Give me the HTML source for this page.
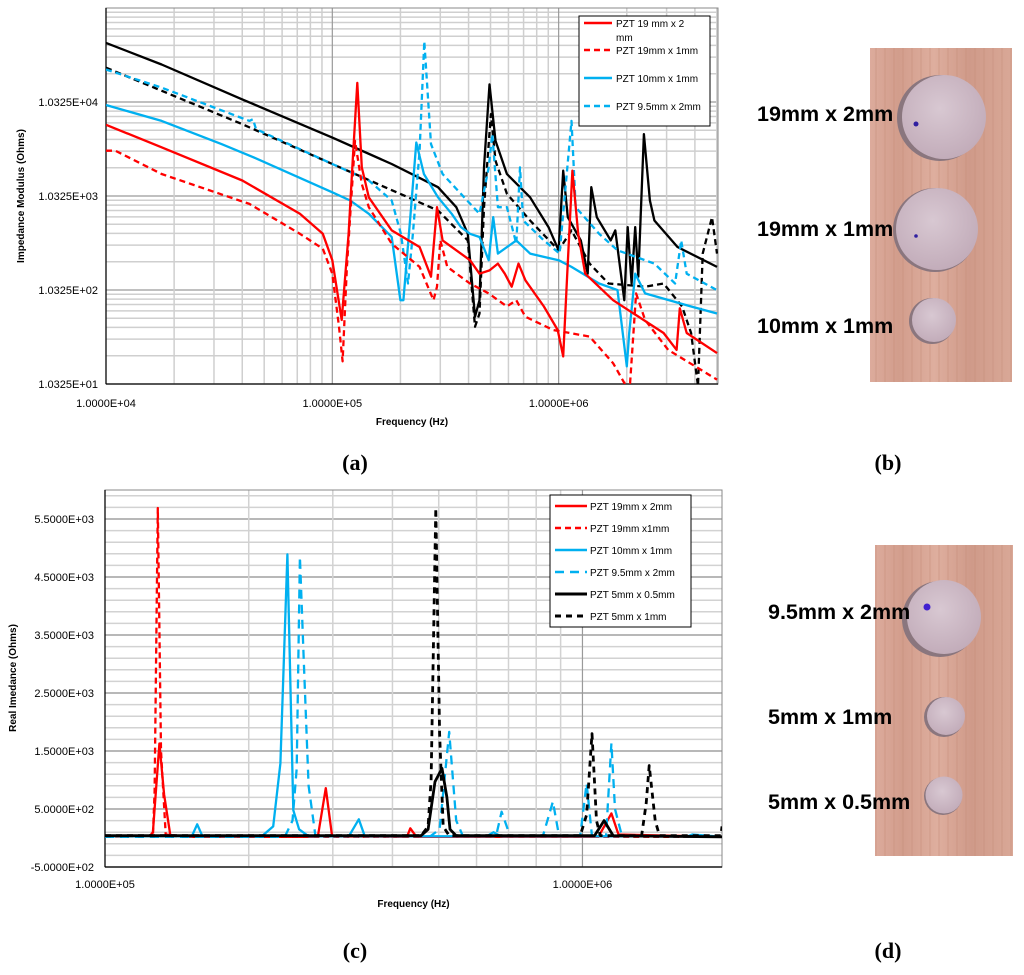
<!DOCTYPE html>
<html><head><meta charset="utf-8">
<style>
html,body{margin:0;padding:0;background:#fff;}
svg{display:block;font-family:"Liberation Sans",sans-serif;}
.tick{font-size:11px;fill:#000;}
.ttl{font-size:10px;font-weight:bold;fill:#000;}
.leg{font-size:10px;fill:#000;}
.cap{font-family:"Liberation Serif",serif;font-size:22px;font-weight:bold;}
.plab{font-size:21.5px;font-weight:bold;fill:#000;}
</style></head>
<body>
<svg id="fig" width="1024" height="975" viewBox="0 0 1024 975">
  <g id="chartA"></g>
  <g id="chartC"></g>

  <g>
    <rect x="579" y="16" width="131" height="110" fill="#fff" stroke="#000" stroke-width="1"/>
    <g><line x1="584" y1="23" x2="612" y2="23" stroke="#f00" stroke-width="2.5"/><text class="leg" x="616" y="27">PZT 19 mm x 2</text><text class="leg" x="616" y="41">mm</text></g>
    <g><line x1="584" y1="50" x2="612" y2="50" stroke="#f00" stroke-width="2.5" stroke-dasharray="6,4"/><text class="leg" x="616" y="54">PZT 19mm x 1mm</text></g>
    <g><line x1="584" y1="78" x2="612" y2="78" stroke="#00b0f0" stroke-width="2.5"/><text class="leg" x="616" y="82">PZT 10mm x 1mm</text></g>
    <g><line x1="584" y1="106" x2="612" y2="106" stroke="#00b0f0" stroke-width="2.5" stroke-dasharray="6,4"/><text class="leg" x="616" y="110">PZT 9.5mm x 2mm</text></g>
  </g>

  <g>
    <rect x="550" y="495" width="141" height="132" fill="#fff" stroke="#000" stroke-width="1"/>
    <g><line x1="555" y1="506" x2="587" y2="506" stroke="#f00" stroke-width="2.5"/><text class="leg" x="590" y="510">PZT 19mm x 2mm</text></g>
    <g><line x1="555" y1="528" x2="587" y2="528" stroke="#f00" stroke-width="2.5" stroke-dasharray="6,4"/><text class="leg" x="590" y="532">PZT 19mm x1mm</text></g>
    <g><line x1="555" y1="550" x2="587" y2="550" stroke="#00b0f0" stroke-width="2.5"/><text class="leg" x="590" y="554">PZT 10mm x 1mm</text></g>
    <g><line x1="555" y1="572" x2="587" y2="572" stroke="#00b0f0" stroke-width="2.5" stroke-dasharray="9,6"/><text class="leg" x="590" y="576">PZT 9.5mm x 2mm</text></g>
    <g><line x1="555" y1="594" x2="587" y2="594" stroke="#000" stroke-width="3"/><text class="leg" x="590" y="598">PZT 5mm x 0.5mm</text></g>
    <g><line x1="555" y1="616" x2="587" y2="616" stroke="#000" stroke-width="3" stroke-dasharray="6,5"/><text class="leg" x="590" y="620">PZT 5mm x 1mm</text></g>
  </g>

  <text class="cap" x="355" y="470" text-anchor="middle">(a)</text>
  <text class="cap" x="888" y="470" text-anchor="middle">(b)</text>
  <text class="cap" x="355" y="958" text-anchor="middle">(c)</text>
  <text class="cap" x="888" y="958" text-anchor="middle">(d)</text>

  <defs>
    <linearGradient id="wood" x1="0" y1="0" x2="1" y2="0">
      <stop offset="0" stop-color="#dcab9c"/><stop offset="0.2" stop-color="#d29d8c"/>
      <stop offset="0.45" stop-color="#deae9e"/><stop offset="0.7" stop-color="#cf9a89"/>
      <stop offset="1" stop-color="#d9a897"/>
    </linearGradient>
    <pattern id="grain" width="9" height="40" patternUnits="userSpaceOnUse">
      <rect width="9" height="40" fill="none"/>
      <rect x="2" y="0" width="2" height="40" fill="#c48a78" opacity="0.25"/>
    </pattern>
    <radialGradient id="disc" cx="0.45" cy="0.4" r="0.7">
      <stop offset="0" stop-color="#d8c8d2"/><stop offset="1" stop-color="#bfa8b6"/>
    </radialGradient>
  </defs>

  <g>
    <rect x="870" y="48" width="142" height="334" fill="url(#wood)"/>
    <rect x="870" y="48" width="142" height="334" fill="url(#grain)"/>
    <g><circle cx="940" cy="118" r="43" fill="#8a767e"/><circle cx="944" cy="117" r="42" fill="url(#disc)"/><circle cx="916" cy="124" r="2.5" fill="#3020a0"/></g>
    <g><circle cx="935" cy="230" r="42" fill="#8a767e"/><circle cx="937" cy="229" r="41" fill="url(#disc)"/><circle cx="916" cy="236" r="1.8" fill="#3020a0"/></g>
    <g><circle cx="932" cy="321" r="23" fill="#8a767e"/><circle cx="934" cy="320" r="22" fill="url(#disc)"/></g>
    <text class="plab" x="757" y="121">19mm x 2mm</text>
    <text class="plab" x="757" y="236">19mm x 1mm</text>
    <text class="plab" x="757" y="333">10mm x 1mm</text>
  </g>

  <g>
    <rect x="875" y="545" width="138" height="311" fill="url(#wood)"/>
    <rect x="875" y="545" width="138" height="311" fill="url(#grain)"/>
    <g><circle cx="940" cy="619" r="38" fill="#8a767e"/><circle cx="944" cy="617" r="37" fill="url(#disc)"/><circle cx="927" cy="607" r="3.5" fill="#4020d0"/></g>
    <g><circle cx="944" cy="717" r="20" fill="#8a767e"/><circle cx="946" cy="716" r="19" fill="url(#disc)"/></g>
    <g><circle cx="943" cy="796" r="19" fill="#8a767e"/><circle cx="944" cy="795" r="18.5" fill="url(#disc)"/></g>
    <text class="plab" x="768" y="619">9.5mm x 2mm</text>
    <text class="plab" x="768" y="724">5mm x 1mm</text>
    <text class="plab" x="768" y="809">5mm x 0.5mm</text>
  </g>
</svg>
<script>
// ===== Chart (a) data: frequency (Hz) and impedance modulus (Ohms) =====
const aYTicks = ["1.0325E+01","1.0325E+02","1.0325E+03","1.0325E+04"];
const aXTicks = ["1.0000E+04","1.0000E+05","1.0000E+06"];
const aRed19x2F = [1e4,17.6e3,40e3,71.9e3,90.8e3,100e3,110e3,118e3,123e3,129e3,135e3,145e3,183e3,243e3,273e3,290e3,307e3,406e3,447e3,495e3,539e3,578e3,620e3,665e3,713e3,861e3,991e3,1.048e6,1.09e6,1.15e6,1.22e6,1.31e6,1.74e6,2.91e6,3.32e6,3.43e6,3.68e6,5.01e6];
const aRed19x2Z = [5900,3400,1510,668,409,214,49.5,409,2450,16500,2080,1000,445,296,143,784,348,214,154,167,197,154,112,197,131,69,38.8,20.3,143,1920,409,154,80.5,36,23.8,65.9,36,22];
const aRed19x1F = [1e4,11e3,17.6e3,43e3,71.9e3,90.8e3,100e3,107e3,111e3,116e3,126e3,135e3,145e3,183e3,243e3,280e3,290e3,300e3,322e3,406e3,491e3,591e3,650e3,713e3,946e3,1.37e6,1.74e6,1.95e6,2.07e6,2.2e6,2.41e6,3.05e6,5.01e6];
const aRed19x1Z = [3130,3130,1770,851,409,284,154,42,18,182,3990,1390,784,321,182,80.5,112,348,182,121,95,69,80.5,53.7,38.8,33,17.2,10.6,10.6,95,49.5,23.8,11.5];
const aBlue10x1F = [1e4,17.6e3,32.4e3,45e3,100e3,120e3,145e3,183e3,200e3,206e3,221e3,235e3,254e3,293e3,337e3,370e3,406e3,447e3,491e3,514e3,539e3,650e3,748e3,861e3,1e6,1.14e6,1.51e6,1.82e6,2.0e6,2.05e6,2.18e6,2.41e6,3.85e6,5.01e6];
const aBlue10x1Z = [9600,6500,3680,2660,1130,925,668,378,80.5,80.5,615,3830,1770,1000,668,482,409,378,214,615,252,348,252,232,214,182,121,103,15.9,36,154,95,69,58];
const aBlue95x2F = [1e4,17.6e3,43e3,44.6e3,46e3,100e3,145e3,183e3,201e3,216e3,227e3,243e3,255e3,273e3,307e3,370e3,447e3,491e3,509e3,539e3,591e3,650e3,675e3,697e3,861e3,1.01e6,1.14e6,1.19e6,1.51e6,1.82e6,2.65e6,3.27e6,3.48e6,3.68e6,5.01e6];
const aBlue95x2Z = [22900,14700,6500,6770,5310,2260,1510,925,409,121,409,3130,45700,3680,1770,1090,668,2080,4700,784,784,321,2080,567,348,252,6500,784,409,273,197,121,348,154,103];
const aBlack05F = [1e4,17.6e3,40e3,100e3,183e3,293e3,353e3,397e3,427e3,447e3,468e3,495e3,526e3,591e3,748e3,902e3,1e6,1.048e6,1.098e6,1.253e6,1.344e6,1.394e6,1.475e6,1.698e6,1.78e6,1.95e6,2.02e6,2.1e6,2.18e6,2.25e6,2.38e6,2.53e6,2.65e6,3.35e6,5.01e6];
const aBlack05Z = [43900,25900,11000,4320,2260,1280,784,409,53.7,80.5,2080,15900,3990,1770,1000,482,273,1920,615,348,154,1280,615,348,445,80.5,482,121,482,143,4700,925,567,296,182];
const aBlack1F = [1e4,40e3,100e3,293e3,397e3,427e3,447e3,468e3,502e3,526e3,591e3,748e3,1e6,1.14e6,1.37e6,1.66e6,2.41e6,2.91e6,3.51e6,3.85e6,4.13e6,4.33e6,4.76e6,5.01e6];
const aBlack1Z = [23900,6000,2260,724,348,42,58,784,7660,2450,1090,567,273,445,197,121,112,121,69,36,9.8,252,615,252];

// ===== Chart (c) data: frequency (Hz) and real impedance (Ohms) =====
const cYTicks = [-500,500,1500,2500,3500,4500,5500];
const cYTickLabels = ["-5.0000E+02","5.0000E+02","1.5000E+03","2.5000E+03","3.5000E+03","4.5000E+03","5.5000E+03"];
const cXTicks = ["1.0000E+05","1.0000E+06"];
const cRed19x2F = [1e5,124e3,126e3,130e3,133e3,137e3,149e3,279e3,290e3,299e3,429e3,436e3,449e3,1.08e6,1.15e6,1.19e6,1.96e6];
const cRed19x2R = [30,30,100,1630,750,50,20,20,860,30,20,167,20,20,425,60,20];
const cRed19x1F = [1e5,126e3,127e3,129e3,131e3,134e3,149e3,1.96e6];
const cRed19x1R = [20,40,800,5690,1500,60,20,20];
const cBlue10x1F = [1e5,149e3,152e3,156e3,160e3,213e3,225e3,233e3,241e3,248e3,255e3,267e3,324e3,340e3,350e3,630e3,651e3,674e3,1.66e6,1.70e6,1.96e6];
const cBlue10x1R = [30,30,30,236,30,30,200,1290,4890,480,150,30,30,322,30,30,100,30,30,60,20];
const cBlue95x2F = [1e5,238e3,247e3,252e3,256e3,261e3,267e3,276e3,480e3,502e3,526e3,544e3,562e3,659e3,677e3,705e3,826e3,867e3,893e3,989e3,1.02e6,1.047e6,1.12e6,1.15e6,1.17e6,1.21e6,1.96e6];
const cBlue95x2R = [20,20,300,1200,4850,3000,900,30,30,150,1830,300,30,30,454,40,30,627,40,40,943,30,30,1632,500,30,20];
const cBlack05F = [1e5,459e3,475e3,491e3,508e3,520e3,528e3,544e3,1.06e6,1.11e6,1.16e6,1.96e6];
const cBlack05R = [40,40,150,970,1200,700,150,40,40,300,40,20];
const cBlack1F = [1e5,459e3,475e3,482e3,493e3,502e3,511e3,526e3,989e3,1.02e6,1.047e6,1.07e6,1.09e6,1.33e6,1.36e6,1.38e6,1.42e6,1.45e6,1.95e6,1.96e6];
const cBlack1R = [40,40,200,1000,5690,1800,200,40,40,400,1800,300,40,40,600,1250,300,40,40,200];

const NS = "http://www.w3.org/2000/svg";
function mk(parent, tag, attrs){ const e=document.createElementNS(NS,tag); for(const k in attrs) e.setAttribute(k,attrs[k]); parent.appendChild(e); return e; }

(function(){
  const g = document.getElementById('chartA');
  const L=106,R=718,T=8,B=384;
  const xMin=Math.log10(1e4), xMax=Math.log10(5.06e6), yMin=Math.log10(10.325), yMax=Math.log10(103250);
  const X=f=>L+(Math.log10(f)-xMin)/(xMax-xMin)*(R-L);
  const Y=z=>B-(Math.log10(z)-yMin)/(yMax-yMin)*(B-T);
  const clip = mk(g,'clipPath',{id:'clipA'}); mk(clip,'rect',{x:L,y:T,width:R-L,height:B-T});
  for(let d=1;d<=4;d++){ for(let m=1;m<=9;m++){ const z=10.325*Math.pow(10,d-1)*m; if(z>103250) break; const y=Y(z);
    const ln=mk(g,'line',{x1:L,x2:R,y1:y,y2:y,stroke:m===1?'#9a9a9a':'#cfcfcf','stroke-width':m===1?1.2:1.5});
      } }
  for(let d=4;d<=6;d++){ for(let m=1;m<=9;m++){ const f=m*Math.pow(10,d); if(f>5.06e6) break; const x=X(f);
    const ln=mk(g,'line',{x1:x,x2:x,y1:T,y2:B,stroke:m===1?'#9a9a9a':'#cfcfcf','stroke-width':m===1?1.2:1.5});
      } }
  mk(g,'rect',{x:L,y:T,width:R-L,height:B-T,fill:'none',stroke:'#888','stroke-width':1});
  mk(g,'line',{x1:L,x2:L,y1:T,y2:B,stroke:'#000','stroke-width':1.2});
  mk(g,'line',{x1:L,x2:R,y1:B,y2:B,stroke:'#000','stroke-width':1.2});
  aYTicks.forEach((t,i)=>{ const y=Y(10.325*Math.pow(10,i));
    const tx=mk(g,'text',{x:L-8,y:y+4,'text-anchor':'end',class:'tick'}); tx.textContent=t;
      });
  aXTicks.forEach((t,i)=>{ const x=X(Math.pow(10,4+i));
    const tx=mk(g,'text',{x:x,y:407,'text-anchor':'middle',class:'tick'}); tx.textContent=t;
      });
  const xt=mk(g,'text',{x:(L+R)/2,y:425,'text-anchor':'middle',class:'ttl'}); xt.textContent='Frequency (Hz)';
   
  const yt=mk(g,'text',{x:0,y:0,'text-anchor':'middle',class:'ttl',transform:'translate(24,196) rotate(-90)'}); yt.textContent='Impedance Modulus (Ohms)';
   
  const series=[
    [aBlack05F,aBlack05Z,'#000',null,'series-black-solid'],
    [aBlack1F,aBlack1Z,'#000','6,4','series-black-dashed'],
    [aBlue95x2F,aBlue95x2Z,'#00b0f0','6,4','series-pzt-9.5x2'],
    [aBlue10x1F,aBlue10x1Z,'#00b0f0',null,'series-pzt-10x1'],
    [aRed19x1F,aRed19x1Z,'#f00','6,4','series-pzt-19x1'],
    [aRed19x2F,aRed19x2Z,'#f00',null,'series-pzt-19x2']];
  series.forEach(s=>{ const d=s[0].map((f,i)=>(i?'L':'M')+X(f).toFixed(1)+','+Y(s[1][i]).toFixed(1)).join('');
    const p=mk(g,'path',{d:d,fill:'none',stroke:s[2],'stroke-width':2.3,'stroke-linejoin':'round','clip-path':'url(#clipA)'});
    if(s[3]) p.setAttribute('stroke-dasharray',s[3]);
      });
})();

(function(){
  const g = document.getElementById('chartC');
  const L=105,R=722,T=490,B=867;
  const xMin=5, xMax=Math.log10(1.96e6), yMin=-500, yMax=6000;
  const X=f=>L+(Math.log10(f)-xMin)/(xMax-xMin)*(R-L);
  const Y=v=>B-(v-yMin)/(yMax-yMin)*(B-T);
  const clip = mk(g,'clipPath',{id:'clipC'}); mk(clip,'rect',{x:L,y:T,width:R-L,height:B-T});
  for(let v=-500; v<=6000; v+=200){ const y=Y(v);
    const ln=mk(g,'line',{x1:L,x2:R,y1:y,y2:y,stroke:'#d2d2d2','stroke-width':1.5});
      }
  for(let v=-500; v<=6000; v+=1000){ const y=Y(v);
    const ln=mk(g,'line',{x1:L,x2:R,y1:y,y2:y,stroke:'#9a9a9a','stroke-width':1.2});
      }
  for(let d=5;d<=6;d++){ for(let m=1;m<=9;m++){ const f=m*Math.pow(10,d); if(f>1.96e6) break; const x=X(f);
    const ln=mk(g,'line',{x1:x,x2:x,y1:T,y2:B,stroke:m===1?'#9a9a9a':'#d2d2d2','stroke-width':m===1?1.2:1.5});
      } }
  mk(g,'rect',{x:L,y:T,width:R-L,height:B-T,fill:'none',stroke:'#888','stroke-width':1});
  mk(g,'line',{x1:L,x2:L,y1:T,y2:B,stroke:'#000','stroke-width':1.2});
  mk(g,'line',{x1:L,x2:R,y1:B,y2:B,stroke:'#000','stroke-width':1.2});
  cYTicks.forEach((v,i)=>{ const tx=mk(g,'text',{x:L-11,y:Y(v)+4,'text-anchor':'end',class:'tick'}); tx.textContent=cYTickLabels[i];
      });
  cXTicks.forEach((t,i)=>{ const tx=mk(g,'text',{x:X(Math.pow(10,5+i)),y:888,'text-anchor':'middle',class:'tick'}); tx.textContent=t;
      });
  const xt=mk(g,'text',{x:(L+R)/2,y:907,'text-anchor':'middle',class:'ttl'}); xt.textContent='Frequency (Hz)';
   
  const yt=mk(g,'text',{x:0,y:0,'text-anchor':'middle',class:'ttl',transform:'translate(16,678) rotate(-90)'}); yt.textContent='Real Imedance (Ohms)';
   
  const series=[
    [cRed19x1F,cRed19x1R,'#f00','6,4',2.3,'series-pzt-19x1'],
    [cRed19x2F,cRed19x2R,'#f00',null,2.3,'series-pzt-19x2'],
    [cBlue95x2F,cBlue95x2R,'#00b0f0','9,6',2.3,'series-pzt-9.5x2'],
    [cBlue10x1F,cBlue10x1R,'#00b0f0',null,2.3,'series-pzt-10x1'],
    [cBlack1F,cBlack1R,'#000','6,5',2.8,'series-pzt-5x1'],
    [cBlack05F,cBlack05R,'#000',null,2.8,'series-pzt-5x0.5']];
  series.forEach(s=>{ const d=s[0].map((f,i)=>(i?'L':'M')+X(f).toFixed(1)+','+Y(s[1][i]).toFixed(1)).join('');
    const p=mk(g,'path',{d:d,fill:'none',stroke:s[2],'stroke-width':s[4],'stroke-linejoin':'round','clip-path':'url(#clipC)'});
    if(s[3]) p.setAttribute('stroke-dasharray',s[3]);
      });
})();
</script>
</body></html>
